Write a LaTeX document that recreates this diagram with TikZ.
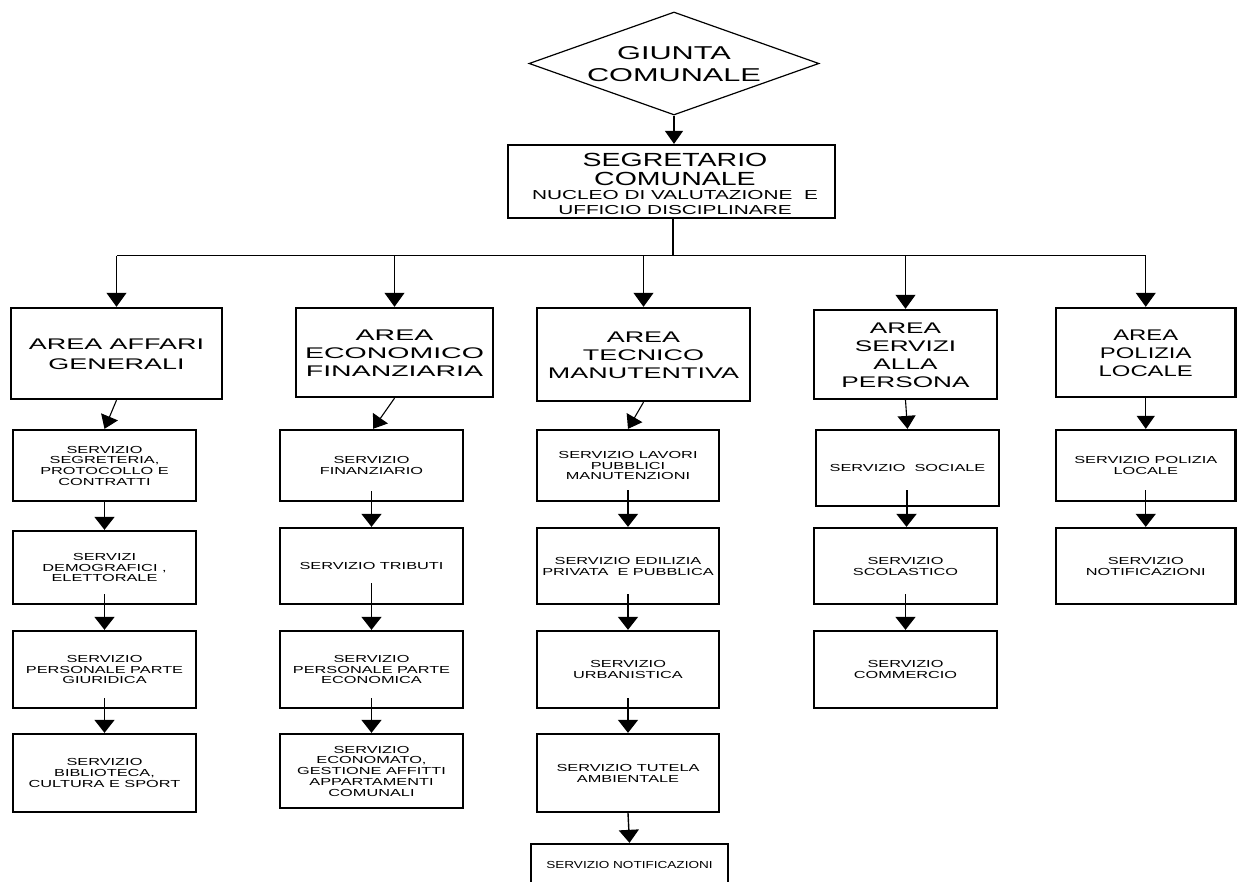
\documentclass[tikz,border=0pt]{standalone}
\usepackage{fontspec}
\setmainfont{Liberation Sans}
\usepackage{graphicx}
\usetikzlibrary{arrows.meta,shapes.geometric}
\newcommand\tx[4]{\raisebox{-\dimexpr 0.358\dimexpr #2pt\relax - 0.2\dimexpr #3pt\relax\relax}[\height][\depth]{\scalebox{#1}[1]{\fontsize{#2}{#3}\selectfont\begin{tabular}{@{}c@{}}#4\end{tabular}}}}
\newcommand\sv[1]{\tx{1.6}{10.2}{10.7}{#1}}
\newcommand\ar[2]{\tx{#1}{15.4}{18}{#2}}
\tikzset{
  sbox/.style={draw, rectangle, line width=2.3pt, inner sep=0pt},
  abox/.style={draw, rectangle, line width=2.4pt, inner sep=0pt},
  plain/.style={inner sep=0pt, outer sep=0pt},
  arr/.style={line width=1.4pt, -{Triangle[width=20pt,length=13pt]}},
  tarr/.style={line width=1.1pt, -{Triangle[width=20pt,length=14pt]}},
}
\begin{document}
\begin{tikzpicture}[x=1pt,y=-1pt]
\useasboundingbox (0,0) rectangle (1237,882);

% top
\node[draw, diamond, line width=1.2pt, inner sep=0pt, minimum width=290pt, minimum height=103pt] (giunta) at (674,63.5) {};
\node[plain] (giuntaT) at (674,63.8) {\tx{1.65}{18.6}{22}{GIUNTA\\COMUNALE}};

\node[draw, rectangle, line width=2.2pt, inner sep=0pt, minimum width=327pt, minimum height=73pt] (seg) at (671.5,181.5) {};
\node[plain] (segA) at (675,169) {\tx{1.5}{19}{19}{SEGRETARIO\\COMUNALE}};
\node[plain] (segB) at (675,202.8) {\tx{1.6}{13}{15}{NUCLEO DI VALUTAZIONE\ \ E\\UFFICIO DISCIPLINARE}};

\draw[-{Triangle[width=18pt,length=13pt]}, line width=1.2pt] (giunta.south) -- (giunta.south |- seg.north);

% areas
\node[abox, minimum width=211pt, minimum height=91pt] (a1) at (116.5,353.5) {\tx{1.75}{15.4}{20}{AREA AFFARI\\GENERALI}};
\node[abox, minimum width=197pt, minimum height=89pt] (a2) at (394.5,352.5) {\ar{1.85}{AREA\\ECONOMICO\\FINANZIARIA}};
\node[abox, minimum width=213pt, minimum height=93pt] (a3) at (643.5,354.5) {\ar{1.75}{AREA\\TECNICO\\MANUTENTIVA}};
\node[abox, minimum width=183pt, minimum height=89pt] (a4) at (905.5,354.5) {\ar{1.7}{AREA\\SERVIZI\\ALLA\\PERSONA}};
\node[abox, minimum width=179.5pt, minimum height=89pt] (a5) at (1145.75,352.5) {\ar{1.55}{AREA\\POLIZIA\\LOCALE}};

% tree
\coordinate (j) at (673,256);
\draw[line width=2pt] ([xshift=1.5pt]seg.south) -- (j);
\draw[line width=1pt] (a1.north |- j) -- (a5.north |- j);
\foreach \a in {a1,a2,a3,a4,a5} {
  \draw[tarr] (\a.north |- j) -- (\a.north);
}

% column 1
\node[sbox, minimum width=183pt, minimum height=71pt] (s11) at (104.5,465.5) {\sv{SERVIZIO\\SEGRETERIA,\\PROTOCOLLO E\\CONTRATTI}};
\node[sbox, minimum width=183pt, minimum height=73pt] (s12) at (104.5,567.5) {\sv{SERVIZI\\DEMOGRAFICI ,\\ELETTORALE}};
\node[sbox, minimum width=183pt, minimum height=77pt] (s13) at (104.5,669.5) {\sv{SERVIZIO\\PERSONALE PARTE\\GIURIDICA}};
\node[sbox, minimum width=183pt, minimum height=78pt] (s14) at (104.5,773) {\sv{SERVIZIO\\BIBLIOTECA,\\CULTURA E SPORT}};

% column 2
\node[sbox, minimum width=183pt, minimum height=71pt] (s21) at (371.5,465.5) {\sv{SERVIZIO\\FINANZIARIO}};
\node[sbox, minimum width=183pt, minimum height=76pt] (s22) at (371.5,566) {\sv{SERVIZIO TRIBUTI}};
\node[sbox, minimum width=183pt, minimum height=77pt] (s23) at (371.5,669.5) {\sv{SERVIZIO\\PERSONALE PARTE\\ECONOMICA}};
\node[sbox, minimum width=183pt, minimum height=74pt] (s24) at (371.5,771) {\sv{SERVIZIO\\ECONOMATO,\\GESTIONE AFFITTI\\APPARTAMENTI\\COMUNALI}};

% column 3
\node[sbox, minimum width=182pt, minimum height=71pt] (s31) at (628,465.5) {\sv{SERVIZIO LAVORI\\PUBBLICI\\MANUTENZIONI}};
\node[sbox, minimum width=182pt, minimum height=76pt] (s32) at (628,566) {\sv{SERVIZIO EDILIZIA\\PRIVATA\ \ E PUBBLICA}};
\node[sbox, minimum width=182pt, minimum height=77pt] (s33) at (628,669.5) {\sv{SERVIZIO\\URBANISTICA}};
\node[sbox, minimum width=182pt, minimum height=78pt] (s34) at (628,773) {\sv{SERVIZIO TUTELA\\AMBIENTALE}};
\node[sbox, minimum width=197pt, minimum height=42pt] (s35) at (629.5,865) {\tx{1.33}{10.2}{10.7}{SERVIZIO NOTIFICAZIONI}};

% column 4
\node[sbox, minimum width=183pt, minimum height=76pt] (s41) at (907.5,468) {\sv{SERVIZIO\ \ SOCIALE}};
\node[sbox, minimum width=183pt, minimum height=76pt] (s42) at (905.5,566) {\sv{SERVIZIO\\SCOLASTICO}};
\node[sbox, minimum width=183pt, minimum height=77pt] (s43) at (905.5,669.5) {\sv{SERVIZIO\\COMMERCIO}};

% column 5
\node[sbox, minimum width=179.5pt, minimum height=71pt] (s51) at (1145.75,465.5) {\sv{SERVIZIO POLIZIA\\LOCALE}};
\node[sbox, minimum width=179.5pt, minimum height=76pt] (s52) at (1145.75,566) {\sv{SERVIZIO\\NOTIFICAZIONI}};

% area -> first service
\draw[arr, line width=1.1pt, -{Triangle[width=18pt,length=13pt]}] (a1.south) -- (s11.north);
\draw[arr, line width=1.1pt, -{Triangle[width=18pt,length=13pt]}] (a2.south) -- ([xshift=1.5pt]s21.north);
\draw[arr, line width=1.1pt, -{Triangle[width=18pt,length=13pt]}] (a3.south) -- (s31.north);
\draw[arr, line width=1.1pt, -{Triangle[width=18pt,length=13pt]}] (a4.south) -- (s41.north);
\draw[arr, line width=1.1pt, -{Triangle[width=18pt,length=13pt]}] (a5.south) -- (s51.north);

% service chains
\draw[arr] (s11.south) -- (s12.north);
\draw[arr] ([yshift=11pt]s12.south) -- (s13.north);
\draw[arr] ([yshift=11pt]s13.south) -- (s14.north);

\draw[arr] ([yshift=11pt]s21.south) -- (s22.north);
\draw[arr] ([yshift=22pt]s22.south) -- (s23.north);
\draw[arr] ([yshift=11pt]s23.south) -- (s24.north);

\draw[arr] ([yshift=12pt]s31.south) -- (s32.north);
\draw[arr] ([yshift=11pt]s32.south) -- (s33.north);
\draw[arr] ([yshift=11pt]s33.south) -- (s34.north);
\draw[arr] (s34.south) -- (s35.north);

\draw[arr, line width=2pt] ([xshift=-1pt,yshift=17pt]s41.south) -- ([xshift=1pt]s42.north);
\draw[arr] ([yshift=11pt]s42.south) -- (s43.north);

\draw[arr] ([yshift=12pt]s51.south) -- (s52.north);
\end{tikzpicture}
\end{document}
